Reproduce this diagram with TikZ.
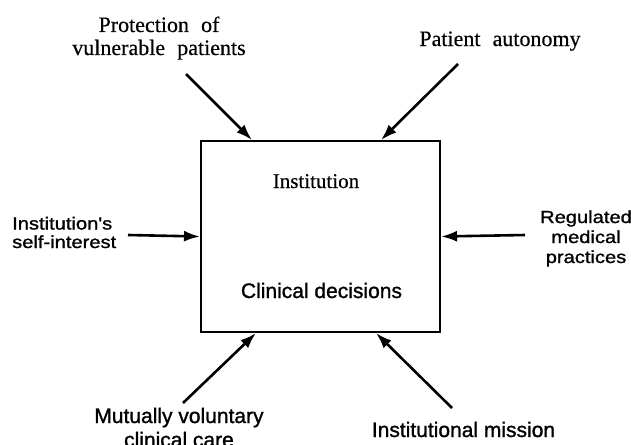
\documentclass[tikz,border=0pt]{standalone}
\usepackage{fontspec}
\usetikzlibrary{arrows.meta}

\newfontfamily\serifwide[WordSpace=2.2, FakeBold=0.4]{Liberation Serif}
\newfontfamily\sansplain[FakeBold=1.2]{Liberation Sans}
\newfontfamily\sanswide[FakeStretch=1.15, FakeBold=1.2]{Liberation Sans}

\begin{document}
\begin{tikzpicture}[x=1pt, y=-1pt, box/.style={rectangle, draw, line width=2pt, minimum width=239pt, minimum height=191pt}, force/.style={-{Latex[length=16pt,width=11pt]}, line width=2.6pt}, serlabel/.style={font=\serifwide\fontsize{22}{23}\selectfont, align=center, anchor=base, inner sep=0pt}, sidelabel/.style={font=\sanswide\fontsize{17.5}{18.5}\selectfont, anchor=base, inner sep=0pt}, botlabel/.style={font=\sansplain\fontsize{21}{24}\selectfont, align=center, anchor=base, inner sep=0pt}]

  \useasboundingbox (0,0) rectangle (631,444);

  % the institution box
  \node[box] (inst) at (320.5,236.5) {};
  \node[serlabel, font=\serifwide\fontsize{21}{23}\selectfont] (instname) at (316,188) {Institution};
  \node[botlabel] (decide) at (321.5,298) {Clinical decisions};

  % the forces acting on it (base = last line)
  \node[serlabel] (protect) at (159,55) {Protection of\\vulnerable patients};
  \node[serlabel] (autonomy) at (500,46) {Patient autonomy};
  \node[sidelabel, align=left, anchor=base west] (selfint) at (12,248) {Institution's\\self-interest};
  \node[sidelabel, align=center, font=\sanswide\fontsize{17.5}{20}\selectfont] (regulated) at (586,263) {Regulated\\medical\\practices};
  \node[botlabel] (mutual) at (179,447) {Mutually voluntary\\clinical care};
  \node[botlabel] (mission) at (463.5,437) {Institutional mission};

  \coordinate (protect-end) at (186,74);
  \coordinate (autonomy-end) at (458,64);
  \coordinate (selfint-end) at (128,235);
  \coordinate (regulated-end) at (525,235);
  \coordinate (mutual-end) at (183,403);
  \coordinate (mission-end) at (452,408);

  \draw[force] (protect-end) -- ([xshift=52pt]inst.north west);
  \draw[force] (autonomy-end) -- ([xshift=-60pt]inst.north east);
  \draw[force] (selfint-end) -- (inst.west);
  \draw[force] (regulated-end) -- (inst.east);
  \draw[force] (mutual-end) -- ([xshift=56pt]inst.south west);
  \draw[force] (mission-end) -- ([xshift=-65pt]inst.south east);
\end{tikzpicture}
\end{document}
